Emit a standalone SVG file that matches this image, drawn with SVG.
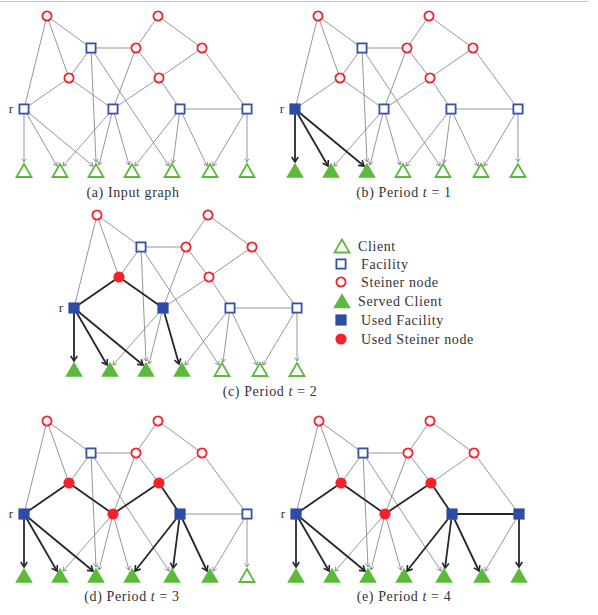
<svg xmlns="http://www.w3.org/2000/svg" xmlns:xlink="http://www.w3.org/1999/xlink" width="598" height="615" viewBox="0 0 598 615">
<style>
.t{stroke:#7c7c7c;stroke-width:0.8;fill:none}
.ta{stroke:#7c7c7c;stroke-width:0.8;fill:none;marker-end:url(#ah)}
.b{stroke:#262626;stroke-width:1.8;fill:none}
.ba{stroke:#262626;stroke-width:1.8;fill:none;marker-end:url(#abh)}
.so{fill:#fff;stroke:#f4232b;stroke-width:1.8}
.sf{fill:#f4232b}
.fo{fill:#fff;stroke:#3352aa;stroke-width:1.8}
.ff{fill:#2c4ca6}
.co{fill:#fff;stroke:#5bb93c;stroke-width:1.8;stroke-linejoin:miter}
.cf{fill:#5bb93c}
.lbl{font-family:"Liberation Serif","Times New Roman",serif;font-size:14px;letter-spacing:0.6px;fill:#333}
.rl{font-family:"Liberation Serif","Times New Roman",serif;font-size:13px;fill:#333}
</style>
<defs>
<marker id="ah" markerUnits="userSpaceOnUse" markerWidth="10" markerHeight="10" orient="auto" overflow="visible"><path d="M-3.5,-2.3 L0,0 L-3.5,2.3" fill="none" stroke="#7c7c7c" stroke-width="0.8"/></marker>
<marker id="abh" markerUnits="userSpaceOnUse" markerWidth="10" markerHeight="10" orient="auto" overflow="visible"><path d="M-5,-3.3 L0,0 L-5,3.3" fill="none" stroke="#262626" stroke-width="1.6"/></marker>
<circle id="so" r="4.6" class="so"/>
<circle id="sf" r="5.6" class="sf"/>
<rect id="fo" x="-4.6" y="-4.6" width="9.2" height="9.2" class="fo"/>
<rect id="ff" x="-5.6" y="-5.6" width="11.2" height="11.2" class="ff"/>
<polygon id="co" points="0,-6.5 -7.5,6.5 7.5,6.5" class="co"/>
<polygon id="cf" points="0,-7.8 -8.8,7.2 8.8,7.2" class="cf"/>
</defs>
<line x1="0" y1="1.5" x2="588" y2="1.5" stroke="#c4c4c4" stroke-width="1"/>

<!-- Panel (a) -->
<g id="panel-a">
<g id="a-connectors">
<line class="t" x1="47" y1="16" x2="91" y2="48"/>
<line class="t" x1="47" y1="16" x2="69" y2="78"/>
<line class="t" x1="47" y1="16" x2="24" y2="109"/>
<line class="t" x1="158" y1="16" x2="136" y2="48"/>
<line class="t" x1="158" y1="16" x2="202" y2="48"/>
<line class="t" x1="91" y1="48" x2="136" y2="48"/>
<line class="t" x1="91" y1="48" x2="69" y2="78"/>
<line class="t" x1="69" y1="78" x2="24" y2="109"/>
<line class="t" x1="69" y1="78" x2="113" y2="109"/>
<line class="t" x1="136" y1="48" x2="159" y2="78"/>
<line class="t" x1="136" y1="48" x2="113" y2="109"/>
<line class="t" x1="202" y1="48" x2="159" y2="78"/>
<line class="t" x1="202" y1="48" x2="247" y2="109"/>
<line class="t" x1="159" y1="78" x2="113" y2="109"/>
<line class="t" x1="159" y1="78" x2="180" y2="109"/>
<line class="t" x1="180" y1="109" x2="247" y2="109"/>
<line class="ta" x1="24" y1="109" x2="24" y2="162"/>
<line class="ta" x1="24" y1="109" x2="57" y2="166"/>
<line class="ta" x1="24" y1="109" x2="93" y2="166"/>
<line class="ta" x1="91" y1="48" x2="96" y2="162"/>
<line class="ta" x1="91" y1="48" x2="169" y2="166"/>
<line class="ta" x1="113" y1="109" x2="63" y2="166"/>
<line class="ta" x1="113" y1="109" x2="99" y2="165"/>
<line class="ta" x1="113" y1="109" x2="129" y2="165"/>
<line class="ta" x1="180" y1="109" x2="135" y2="166"/>
<line class="ta" x1="180" y1="109" x2="173" y2="163"/>
<line class="ta" x1="180" y1="109" x2="207" y2="166"/>
<line class="ta" x1="247" y1="109" x2="213" y2="166"/>
<line class="ta" x1="247" y1="109" x2="247" y2="162"/>
</g>
<g id="a-S1"><use href="#so" x="47" y="16"/></g>
<g id="a-S2"><use href="#so" x="158" y="16"/></g>
<g id="a-F1"><use href="#fo" x="91" y="48"/></g>
<g id="a-S3"><use href="#so" x="136" y="48"/></g>
<g id="a-S4"><use href="#so" x="202" y="48"/></g>
<g id="a-S5"><use href="#so" x="69" y="78"/></g>
<g id="a-S6"><use href="#so" x="159" y="78"/></g>
<g id="a-r"><use href="#fo" x="24" y="109"/><text class="rl" x="11" y="113" text-anchor="middle">r</text></g>
<g id="a-F3"><use href="#fo" x="113" y="109"/></g>
<g id="a-F4"><use href="#fo" x="180" y="109"/></g>
<g id="a-F5"><use href="#fo" x="247" y="109"/></g>
<g id="a-C1"><use href="#co" x="24" y="170.5"/></g>
<g id="a-C2"><use href="#co" x="60" y="170.5"/></g>
<g id="a-C3"><use href="#co" x="96" y="170.5"/></g>
<g id="a-C4"><use href="#co" x="132" y="170.5"/></g>
<g id="a-C5"><use href="#co" x="172" y="170.5"/></g>
<g id="a-C6"><use href="#co" x="210" y="170.5"/></g>
<g id="a-C7"><use href="#co" x="247" y="170.5"/></g>
<text class="lbl" x="133" y="197" text-anchor="middle">(a) Input graph</text>
</g>

<!-- Panel (b) -->
<g id="panel-b" transform="translate(271,0)">
<g id="b-connectors">
<line class="t" x1="47" y1="16" x2="91" y2="48"/>
<line class="t" x1="47" y1="16" x2="69" y2="78"/>
<line class="t" x1="47" y1="16" x2="24" y2="109"/>
<line class="t" x1="158" y1="16" x2="136" y2="48"/>
<line class="t" x1="158" y1="16" x2="202" y2="48"/>
<line class="t" x1="91" y1="48" x2="136" y2="48"/>
<line class="t" x1="91" y1="48" x2="69" y2="78"/>
<line class="t" x1="69" y1="78" x2="24" y2="109"/>
<line class="t" x1="69" y1="78" x2="113" y2="109"/>
<line class="t" x1="136" y1="48" x2="159" y2="78"/>
<line class="t" x1="136" y1="48" x2="113" y2="109"/>
<line class="t" x1="202" y1="48" x2="159" y2="78"/>
<line class="t" x1="202" y1="48" x2="247" y2="109"/>
<line class="t" x1="159" y1="78" x2="113" y2="109"/>
<line class="t" x1="159" y1="78" x2="180" y2="109"/>
<line class="t" x1="180" y1="109" x2="247" y2="109"/>
<line class="ta" x1="91" y1="48" x2="96" y2="162"/>
<line class="ta" x1="91" y1="48" x2="169" y2="166"/>
<line class="ta" x1="113" y1="109" x2="63" y2="166"/>
<line class="ta" x1="113" y1="109" x2="99" y2="165"/>
<line class="ta" x1="113" y1="109" x2="129" y2="165"/>
<line class="ta" x1="180" y1="109" x2="135" y2="166"/>
<line class="ta" x1="180" y1="109" x2="173" y2="163"/>
<line class="ta" x1="180" y1="109" x2="207" y2="166"/>
<line class="ta" x1="247" y1="109" x2="213" y2="166"/>
<line class="ta" x1="247" y1="109" x2="247" y2="162"/>
<line class="ba" x1="24" y1="109" x2="24" y2="162"/>
<line class="ba" x1="24" y1="109" x2="57" y2="166"/>
<line class="ba" x1="24" y1="109" x2="93" y2="166"/>
</g>
<g id="b-S1"><use href="#so" x="47" y="16"/></g>
<g id="b-S2"><use href="#so" x="158" y="16"/></g>
<g id="b-F1"><use href="#fo" x="91" y="48"/></g>
<g id="b-S3"><use href="#so" x="136" y="48"/></g>
<g id="b-S4"><use href="#so" x="202" y="48"/></g>
<g id="b-S5"><use href="#so" x="69" y="78"/></g>
<g id="b-S6"><use href="#so" x="159" y="78"/></g>
<g id="b-r"><use href="#ff" x="24" y="109"/><text class="rl" x="11" y="113" text-anchor="middle">r</text></g>
<g id="b-F3"><use href="#fo" x="113" y="109"/></g>
<g id="b-F4"><use href="#fo" x="180" y="109"/></g>
<g id="b-F5"><use href="#fo" x="247" y="109"/></g>
<g id="b-C1"><use href="#cf" x="24" y="170.5"/></g>
<g id="b-C2"><use href="#cf" x="60" y="170.5"/></g>
<g id="b-C3"><use href="#cf" x="96" y="170.5"/></g>
<g id="b-C4"><use href="#co" x="132" y="170.5"/></g>
<g id="b-C5"><use href="#co" x="172" y="170.5"/></g>
<g id="b-C6"><use href="#co" x="210" y="170.5"/></g>
<g id="b-C7"><use href="#co" x="247" y="170.5"/></g>
<text class="lbl" x="133" y="197" text-anchor="middle">(b) Period <tspan font-style="italic">t</tspan> = 1</text>
</g>

<!-- Panel (c) -->
<g id="panel-c" transform="translate(50,199)">
<g id="c-connectors">
<line class="t" x1="47" y1="16" x2="91" y2="48"/>
<line class="t" x1="47" y1="16" x2="69" y2="78"/>
<line class="t" x1="47" y1="16" x2="24" y2="109"/>
<line class="t" x1="158" y1="16" x2="136" y2="48"/>
<line class="t" x1="158" y1="16" x2="202" y2="48"/>
<line class="t" x1="91" y1="48" x2="136" y2="48"/>
<line class="t" x1="91" y1="48" x2="69" y2="78"/>
<line class="t" x1="136" y1="48" x2="159" y2="78"/>
<line class="t" x1="136" y1="48" x2="113" y2="109"/>
<line class="t" x1="202" y1="48" x2="159" y2="78"/>
<line class="t" x1="202" y1="48" x2="247" y2="109"/>
<line class="t" x1="159" y1="78" x2="113" y2="109"/>
<line class="t" x1="159" y1="78" x2="180" y2="109"/>
<line class="t" x1="180" y1="109" x2="247" y2="109"/>
<line class="ta" x1="91" y1="48" x2="96" y2="162"/>
<line class="ta" x1="91" y1="48" x2="169" y2="166"/>
<line class="ta" x1="113" y1="109" x2="63" y2="166"/>
<line class="ta" x1="113" y1="109" x2="99" y2="165"/>
<line class="ta" x1="180" y1="109" x2="135" y2="166"/>
<line class="ta" x1="180" y1="109" x2="173" y2="163"/>
<line class="ta" x1="180" y1="109" x2="207" y2="166"/>
<line class="ta" x1="247" y1="109" x2="213" y2="166"/>
<line class="ta" x1="247" y1="109" x2="247" y2="162"/>
<line class="b" x1="69" y1="78" x2="24" y2="109"/>
<line class="b" x1="69" y1="78" x2="113" y2="109"/>
<line class="ba" x1="24" y1="109" x2="24" y2="162"/>
<line class="ba" x1="24" y1="109" x2="57" y2="166"/>
<line class="ba" x1="24" y1="109" x2="93" y2="166"/>
<line class="ba" x1="113" y1="109" x2="129" y2="165"/>
</g>
<g id="c-S1"><use href="#so" x="47" y="16"/></g>
<g id="c-S2"><use href="#so" x="158" y="16"/></g>
<g id="c-F1"><use href="#fo" x="91" y="48"/></g>
<g id="c-S3"><use href="#so" x="136" y="48"/></g>
<g id="c-S4"><use href="#so" x="202" y="48"/></g>
<g id="c-S5"><use href="#sf" x="69" y="78"/></g>
<g id="c-S6"><use href="#so" x="159" y="78"/></g>
<g id="c-r"><use href="#ff" x="24" y="109"/><text class="rl" x="11" y="113" text-anchor="middle">r</text></g>
<g id="c-F3"><use href="#ff" x="113" y="109"/></g>
<g id="c-F4"><use href="#fo" x="180" y="109"/></g>
<g id="c-F5"><use href="#fo" x="247" y="109"/></g>
<g id="c-C1"><use href="#cf" x="24" y="170.5"/></g>
<g id="c-C2"><use href="#cf" x="60" y="170.5"/></g>
<g id="c-C3"><use href="#cf" x="96" y="170.5"/></g>
<g id="c-C4"><use href="#cf" x="132" y="170.5"/></g>
<g id="c-C5"><use href="#co" x="172" y="170.5"/></g>
<g id="c-C6"><use href="#co" x="210" y="170.5"/></g>
<g id="c-C7"><use href="#co" x="247" y="170.5"/></g>
<text class="lbl" x="220" y="197" text-anchor="middle">(c) Period <tspan font-style="italic">t</tspan> = 2</text>
</g>

<!-- Legend -->
<g id="legend">
<g id="leg-client"><use href="#co" x="342" y="246"/><text class="lbl" x="358" y="251">Client</text></g>
<g id="leg-facility"><use href="#fo" x="341" y="264"/><text class="lbl" x="361" y="269">Facility</text></g>
<g id="leg-steiner"><use href="#so" x="341" y="282"/><text class="lbl" x="361" y="287">Steiner node</text></g>
<g id="leg-served"><use href="#cf" x="342" y="301"/><text class="lbl" x="358" y="306">Served Client</text></g>
<g id="leg-usedfac"><use href="#ff" x="341" y="320"/><text class="lbl" x="361" y="325">Used Facility</text></g>
<g id="leg-usedst"><use href="#sf" x="341" y="339"/><text class="lbl" x="361" y="344">Used Steiner node</text></g>
</g>

<!-- Panel (d) -->
<g id="panel-d" transform="translate(0,405)">
<g id="d-connectors">
<line class="t" x1="47" y1="16" x2="91" y2="48"/>
<line class="t" x1="47" y1="16" x2="69" y2="78"/>
<line class="t" x1="47" y1="16" x2="24" y2="109"/>
<line class="t" x1="158" y1="16" x2="136" y2="48"/>
<line class="t" x1="158" y1="16" x2="202" y2="48"/>
<line class="t" x1="91" y1="48" x2="136" y2="48"/>
<line class="t" x1="91" y1="48" x2="69" y2="78"/>
<line class="t" x1="136" y1="48" x2="159" y2="78"/>
<line class="t" x1="136" y1="48" x2="113" y2="109"/>
<line class="t" x1="202" y1="48" x2="159" y2="78"/>
<line class="t" x1="202" y1="48" x2="247" y2="109"/>
<line class="t" x1="180" y1="109" x2="247" y2="109"/>
<line class="ta" x1="91" y1="48" x2="96" y2="162"/>
<line class="ta" x1="91" y1="48" x2="169" y2="166"/>
<line class="ta" x1="113" y1="109" x2="63" y2="166"/>
<line class="ta" x1="113" y1="109" x2="99" y2="165"/>
<line class="ta" x1="113" y1="109" x2="129" y2="165"/>
<line class="ta" x1="247" y1="109" x2="213" y2="166"/>
<line class="ta" x1="247" y1="109" x2="247" y2="162"/>
<line class="b" x1="69" y1="78" x2="24" y2="109"/>
<line class="b" x1="69" y1="78" x2="113" y2="109"/>
<line class="b" x1="159" y1="78" x2="113" y2="109"/>
<line class="b" x1="159" y1="78" x2="180" y2="109"/>
<line class="ba" x1="24" y1="109" x2="24" y2="162"/>
<line class="ba" x1="24" y1="109" x2="57" y2="166"/>
<line class="ba" x1="24" y1="109" x2="93" y2="166"/>
<line class="ba" x1="180" y1="109" x2="135" y2="166"/>
<line class="ba" x1="180" y1="109" x2="173" y2="163"/>
<line class="ba" x1="180" y1="109" x2="207" y2="166"/>
</g>
<g id="d-S1"><use href="#so" x="47" y="16"/></g>
<g id="d-S2"><use href="#so" x="158" y="16"/></g>
<g id="d-F1"><use href="#fo" x="91" y="48"/></g>
<g id="d-S3"><use href="#so" x="136" y="48"/></g>
<g id="d-S4"><use href="#so" x="202" y="48"/></g>
<g id="d-S5"><use href="#sf" x="69" y="78"/></g>
<g id="d-S6"><use href="#sf" x="159" y="78"/></g>
<g id="d-r"><use href="#ff" x="24" y="109"/><text class="rl" x="11" y="113" text-anchor="middle">r</text></g>
<g id="d-F3"><use href="#sf" x="113" y="109"/></g>
<g id="d-F4"><use href="#ff" x="180" y="109"/></g>
<g id="d-F5"><use href="#fo" x="247" y="109"/></g>
<g id="d-C1"><use href="#cf" x="24" y="170.5"/></g>
<g id="d-C2"><use href="#cf" x="60" y="170.5"/></g>
<g id="d-C3"><use href="#cf" x="96" y="170.5"/></g>
<g id="d-C4"><use href="#cf" x="132" y="170.5"/></g>
<g id="d-C5"><use href="#cf" x="172" y="170.5"/></g>
<g id="d-C6"><use href="#cf" x="210" y="170.5"/></g>
<g id="d-C7"><use href="#co" x="247" y="170.5"/></g>
<text class="lbl" x="132" y="196" text-anchor="middle">(d) Period <tspan font-style="italic">t</tspan> = 3</text>
</g>

<!-- Panel (e) -->
<g id="panel-e" transform="translate(272,405)">
<g id="e-connectors">
<line class="t" x1="47" y1="16" x2="91" y2="48"/>
<line class="t" x1="47" y1="16" x2="69" y2="78"/>
<line class="t" x1="47" y1="16" x2="24" y2="109"/>
<line class="t" x1="158" y1="16" x2="136" y2="48"/>
<line class="t" x1="158" y1="16" x2="202" y2="48"/>
<line class="t" x1="91" y1="48" x2="136" y2="48"/>
<line class="t" x1="91" y1="48" x2="69" y2="78"/>
<line class="t" x1="136" y1="48" x2="159" y2="78"/>
<line class="t" x1="136" y1="48" x2="113" y2="109"/>
<line class="t" x1="202" y1="48" x2="159" y2="78"/>
<line class="t" x1="202" y1="48" x2="247" y2="109"/>
<line class="ta" x1="91" y1="48" x2="96" y2="162"/>
<line class="ta" x1="91" y1="48" x2="169" y2="166"/>
<line class="ta" x1="113" y1="109" x2="63" y2="166"/>
<line class="ta" x1="113" y1="109" x2="99" y2="165"/>
<line class="ta" x1="113" y1="109" x2="129" y2="165"/>
<line class="ta" x1="247" y1="109" x2="213" y2="166"/>
<line class="b" x1="69" y1="78" x2="24" y2="109"/>
<line class="b" x1="69" y1="78" x2="113" y2="109"/>
<line class="b" x1="159" y1="78" x2="113" y2="109"/>
<line class="b" x1="159" y1="78" x2="180" y2="109"/>
<line class="b" x1="180" y1="109" x2="247" y2="109"/>
<line class="ba" x1="24" y1="109" x2="24" y2="162"/>
<line class="ba" x1="24" y1="109" x2="57" y2="166"/>
<line class="ba" x1="24" y1="109" x2="93" y2="166"/>
<line class="ba" x1="180" y1="109" x2="135" y2="166"/>
<line class="ba" x1="180" y1="109" x2="173" y2="163"/>
<line class="ba" x1="180" y1="109" x2="207" y2="166"/>
<line class="ba" x1="247" y1="109" x2="247" y2="162"/>
</g>
<g id="e-S1"><use href="#so" x="47" y="16"/></g>
<g id="e-S2"><use href="#so" x="158" y="16"/></g>
<g id="e-F1"><use href="#fo" x="91" y="48"/></g>
<g id="e-S3"><use href="#so" x="136" y="48"/></g>
<g id="e-S4"><use href="#so" x="202" y="48"/></g>
<g id="e-S5"><use href="#sf" x="69" y="78"/></g>
<g id="e-S6"><use href="#sf" x="159" y="78"/></g>
<g id="e-r"><use href="#ff" x="24" y="109"/><text class="rl" x="11" y="113" text-anchor="middle">r</text></g>
<g id="e-F3"><use href="#sf" x="113" y="109"/></g>
<g id="e-F4"><use href="#ff" x="180" y="109"/></g>
<g id="e-F5"><use href="#ff" x="247" y="109"/></g>
<g id="e-C1"><use href="#cf" x="24" y="170.5"/></g>
<g id="e-C2"><use href="#cf" x="60" y="170.5"/></g>
<g id="e-C3"><use href="#cf" x="96" y="170.5"/></g>
<g id="e-C4"><use href="#cf" x="132" y="170.5"/></g>
<g id="e-C5"><use href="#cf" x="172" y="170.5"/></g>
<g id="e-C6"><use href="#cf" x="210" y="170.5"/></g>
<g id="e-C7"><use href="#cf" x="247" y="170.5"/></g>
<text class="lbl" x="132" y="196" text-anchor="middle">(e) Period <tspan font-style="italic">t</tspan> = 4</text>
</g>
</svg>
